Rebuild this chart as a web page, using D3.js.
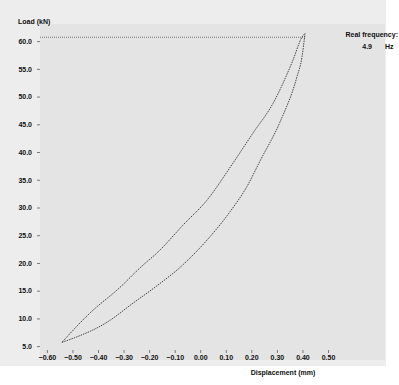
<!DOCTYPE html>
<html>
<head>
<meta charset="utf-8">
<script src="https://cdn.jsdelivr.net/npm/d3@7"></script>
<style>
  body { margin: 0; background: #fff; }
  text { font-family: "Liberation Sans", Arial, sans-serif; font-weight: bold; fill: #111; }
</style>
</head>
<body>
<div class="container-chart"></div>
<script>
// hysteresis loop
const upperDisp = [-0.541, -0.432, -0.314, -0.236, -0.158, -0.068, 0.026, 0.128, 0.206, 0.285, 0.363, 0.398, 0.41];
const upperLoad = [5.7, 10.95, 15.6, 19.1, 22.3, 26.8, 31.3, 38.0, 43.4, 48.8, 56.6, 60.7, 61.4];
const lowerDisp = [-0.541, -0.498, -0.365, -0.263, -0.166, -0.079, 0.026, 0.116, 0.183, 0.234, 0.312, 0.378, 0.398, 0.41];
const lowerLoad = [5.7, 6.4, 9.3, 12.75, 16.0, 19.2, 24.1, 29.2, 33.8, 38.4, 45.4, 53.5, 57.1, 61.4];
const peakLoad = 60.7;

const xTicks = [-0.6, -0.5, -0.4, -0.3, -0.2, -0.1, 0.0, 0.1, 0.2, 0.3, 0.4, 0.5];
const yTicks = [5, 10, 15, 20, 25, 30, 35, 40, 45, 50, 55, 60];
const frequency = "4.9";

const W = 399, H = 385;
const x = d3.scaleLinear().domain([-0.627, 0.723]).range([40, 385]);
const y = d3.scaleLinear().domain([2.5, 63]).range([360, 24.5]);

const svg = d3.select(".container-chart").append("svg")
    .attr("width", W).attr("height", H);

// backgrounds
svg.append("rect").attr("x", 0).attr("y", 0).attr("width", 386).attr("height", 366).attr("fill", "#ededed");
svg.append("rect").attr("x", 40).attr("y", 24).attr("width", 345).attr("height", 336).attr("fill", "#e4e4e4");

// y axis
const yAxis = svg.append("g")
    .attr("transform", "translate(40,0)")
    .call(d3.axisLeft(y).tickValues(yTicks).tickSize(3).tickPadding(5).tickFormat(d3.format(".1f")));
yAxis.select(".domain").remove();
yAxis.selectAll(".tick line").attr("stroke", "#777");
yAxis.selectAll("text").style("font-size", "7px").attr("fill", "#111");

// x axis
const xAxis = svg.append("g")
    .attr("transform", "translate(0,350)")
    .call(d3.axisBottom(x).tickValues(xTicks).tickSize(3).tickPadding(2).tickFormat(d3.format(".2f")));
xAxis.select(".domain").remove();
xAxis.selectAll(".tick line").attr("stroke", "#777");
xAxis.selectAll("text").style("font-size", "7px").attr("fill", "#111");

// peak line
svg.append("line")
    .attr("x1", x(-0.627)).attr("x2", x(0.41))
    .attr("y1", y(peakLoad)).attr("y2", y(peakLoad))
    .attr("stroke", "#777").attr("stroke-width", 1).attr("stroke-dasharray", "1,1");

const line = d3.line().x(d => x(d[0])).y(d => y(d[1])).curve(d3.curveMonotoneX);

[[upperDisp, upperLoad], [lowerDisp, lowerLoad]].forEach(([xs, ys]) => {
    svg.append("path")
        .datum(xs.map((v, i) => [v, ys[i]]))
        .attr("d", line)
        .attr("fill", "none")
        .attr("stroke", "#444")
        .attr("stroke-width", 1)
        .attr("stroke-dasharray", "1.5,1");
});

// titles
svg.append("text").attr("x", 18).attr("y", 24).style("font-size", "7px").text("Load (kN)");
svg.append("text").attr("x", 283).attr("y", 375).attr("text-anchor", "middle").style("font-size", "7px").text("Displacement (mm)");
svg.append("text").attr("x", 398).attr("y", 37).attr("text-anchor", "end").style("font-size", "7px").text("Real frequency:");
svg.append("text").attr("x", 372).attr("y", 49).attr("text-anchor", "end").style("font-size", "7px").text(frequency);
svg.append("text").attr("x", 385).attr("y", 49).style("font-size", "7px").text("Hz");
</script>
</body>
</html>
